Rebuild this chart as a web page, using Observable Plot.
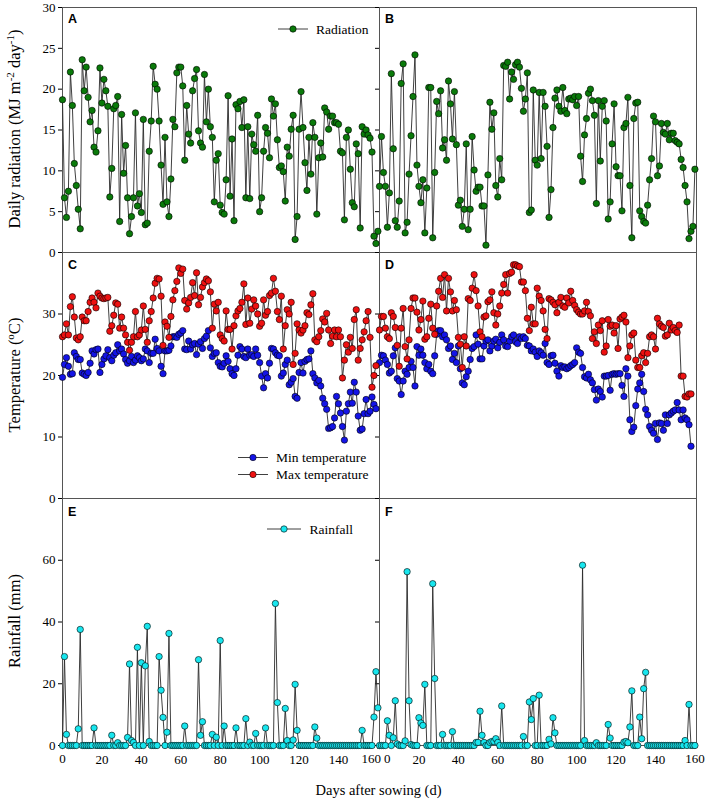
<!DOCTYPE html>
<html><head><meta charset="utf-8">
<script src="https://cdn.jsdelivr.net/npm/d3@7"></script>
<script src="https://cdn.jsdelivr.net/npm/@observablehq/plot@0.6"></script>
<style>
body{margin:0;background:#fff;}
#wrap{position:relative;width:708px;height:805px;overflow:hidden;}
</style></head><body><div id="wrap"></div>
<script>
// ---------------- data ----------------
const radiationA = [
18.7,6.7,4.3,7.5,22.1,18.0,10.9,8.2,5.3,2.9,
23.6,19.8,22.7,19.0,16.0,17.4,12.9,12.3,14.9,22.6,
18.3,21.2,19.8,17.9,6.8,10.3,17.6,18.0,19.1,3.8,
16.9,9.7,13.1,6.7,2.3,4.4,6.7,17.1,5.7,7.2,
4.9,16.3,3.4,3.6,12.4,16.1,22.8,20.6,20.0,16.1,
10.7,5.9,14.1,6.2,4.4,9.0,16.3,15.4,22.0,22.7,
22.7,20.4,11.3,18.0,14.5,13.4,19.8,21.3,22.4,14.9,
13.4,12.9,21.8,16.0,20.0,15.4,14.1,6.2,11.3,12.1,
5.8,
4.9,4.7,8.9,19.2,6.9,13.9,3.9,18.1,17.6,18.5,
15.3,18.7,6.7,15.4,6.6,14.5,13.2,12.4,16.8,5.0,
6.7,12.4,15.3,14.6,11.6,18.8,16.7,18.2,13.8,10.4,
10.6,9.9,6.3,12.9,11.8,15.1,16.8,1.6,4.4,15.1,
19.7,15.3,11.0,7.6,14.1,9.6,15.9,14.1,4.7,11.6,
13.4,11.7,17.7,17.2,15.1,16.7,16.7,15.9,15.9,15.7,
12.4,12.2,4.0,14.1,15.0,10.2,6.1,5.6,13.3,12.1,
3.0,15.4,14.5,15.0,14.4,14.0,12.3,2.0,1.1,2.6];

const radiationB = [
8.1,14.2,9.8,8.1,3.1,7.3,21.9,12.7,3.9,3.1,
6.3,20.7,23.1,2.4,3.7,9.6,14.3,19.1,24.2,10.7,
8.1,6.1,8.9,2.4,7.9,20.2,20.2,1.8,9.8,18.5,
17.0,19.8,12.8,13.8,11.3,21.0,18.2,13.9,19.7,13.2,
5.8,6.4,3.2,5.3,13.3,2.8,5.3,14.2,10.1,7.5,
8.0,8.0,5.7,5.7,0.9,9.5,18.4,15.1,17.1,8.2,
6.8,11.5,8.9,22.9,22.8,23.3,18.8,22.1,21.2,23.0,
23.3,22.7,20.1,17.3,18.8,22.0,4.9,5.2,19.9,11.3,
10.7,19.6,
11.5,19.6,17.9,13.0,4.3,7.7,15.3,18.9,19.9,17.9,
17.3,20.2,17.4,17.0,18.8,18.9,18.7,19.1,18.0,19.1,
11.8,8.7,14.4,16.4,19.5,20.0,18.6,16.8,6.0,18.6,
11.2,17.9,18.6,16.1,4.1,6.2,13.3,18.2,10.5,9.4,
9.4,5.1,15.3,15.8,19.0,8.2,1.8,16.4,18.3,18.4,
5.1,4.4,3.8,3.6,5.8,8.9,11.5,16.7,16.0,9.4,
10.6,15.8,14.7,14.5,15.8,13.8,14.6,14.6,13.7,13.5,
13.3,11.4,10.4,8.2,6.2,1.7,2.6,3.2,10.2];

const minTempC = [
19.7,21.8,22.9,21.5,20.2,20.3,23.7,23.1,22.6,22.6,
20.4,20.2,20.0,20.5,22.0,24.0,23.5,24.2,24.3,20.5,
21.8,22.7,23.2,24.2,22.9,22.4,23.3,23.7,25.0,24.0,
24.3,23.5,22.6,22.0,22.4,23.1,22.1,22.5,23.2,22.9,
22.4,22.7,24.3,24.0,22.1,23.6,23.6,25.9,24.4,24.0,
21.5,20.3,24.0,24.0,24.1,24.8,26.3,26.3,26.2,26.7,
26.9,27.3,24.3,24.2,25.6,24.3,25.0,25.2,23.4,25.1,
25.5,24.4,26.0,26.4,27.3,24.5,23.1,23.6,23.7,22.1,
21.5,21.4,22.0,23.2,22.3,21.1,20.3,20.0,21.1,
23.3,24.7,24.3,23.1,22.9,24.3,23.3,23.4,23.1,24.3,
23.3,22.1,19.9,18.0,20.3,19.6,22.0,24.4,24.3,23.7,
23.3,23.2,19.9,20.4,21.8,22.5,18.5,18.9,19.5,16.6,
16.3,20.5,22.1,20.4,22.3,22.6,22.7,24.0,20.3,19.6,
18.8,19.2,18.3,16.3,15.4,14.5,11.4,11.5,11.7,13.1,
16.6,15.4,13.9,11.7,9.5,14.2,15.4,17.3,15.5,18.9,
17.3,13.4,11.1,11.3,13.8,16.1,13.8,14.2,16.5,15.3,14.6];

const maxTempC = [
26.3,26.6,28.4,26.6,31.2,32.8,29.5,26.1,25.8,26.3,
29.5,28.9,28.9,30.4,31.9,32.6,31.9,31.0,33.4,32.9,
32.6,32.5,32.6,32.7,27.2,28.1,29.8,31.8,31.6,27.7,
29.5,27.7,26.6,25.4,24.1,25.4,26.3,30.4,26.3,26.6,
27.4,31.3,27.5,25.4,28.9,30.4,32.6,35.0,35.8,35.7,
32.9,24.9,28.7,28.0,26.2,29.6,32.3,33.8,35.3,37.5,
36.6,37.3,32.2,30.8,31.8,32.7,35.1,33.0,36.7,31.5,
32.7,34.4,35.1,35.7,35.4,33.6,27.7,31.6,30.5,31.9,
26.6,26.0,25.6,30.5,27.5,27.5,24.3,28.1,29.7,30.5,
30.9,31.9,34.9,28.3,32.6,28.5,30.8,32.3,31.3,30.0,
28.0,28.5,32.3,29.8,30.4,33.0,33.4,35.8,33.7,30.4,
29.1,32.9,24.3,28.1,30.7,30.0,31.9,21.8,23.6,28.4,
27.4,26.9,27.4,28.1,30.2,29.9,31.5,33.3,25.8,25.5,
26.3,27.3,29.2,28.7,30.1,27.4,25.2,26.4,27.4,26.3,
27.4,26.3,19.6,22.5,25.0,23.8,26.2,24.4,29.1,30.7,
22.5,24.4,25.8,27.1,28.9,30.4,26.2,18.1,20.0,21.6];

const minTempD = [
22.1,23.3,23.2,22.5,21.8,20.4,20.7,23.2,24.5,19.5,
19.1,16.9,19.1,20.7,20.2,21.3,22.3,21.3,18.3,24.7,
23.3,24.3,23.3,22.1,21.1,21.8,20.7,20.3,23.2,26.7,
27.3,27.3,26.3,26.6,25.8,24.4,24.8,22.6,23.6,22.1,
24.8,21.1,18.8,18.5,19.8,20.7,22.6,24.4,24.7,26.6,
25.1,22.7,22.7,24.8,25.6,25.8,24.0,24.8,25.6,25.9,
24.5,25.4,26.6,25.8,24.8,24.7,25.6,26.3,26.6,25.5,
25.2,26.3,26.0,26.3,26.0,24.9,24.8,24.0,24.3,23.8,
23.1,
24.0,23.7,23.3,25.2,22.1,21.8,23.2,23.3,22.0,20.7,
19.9,21.6,21.3,21.4,21.1,21.3,21.6,21.8,22.1,24.5,
23.8,23.6,21.3,19.8,19.6,20.2,19.3,18.8,17.7,16.0,
17.8,17.4,16.5,19.9,19.9,20.0,17.6,20.2,20.3,20.2,
20.3,20.3,18.4,16.6,21.1,19.9,12.8,10.9,11.6,15.1,
17.8,18.8,20.2,17.4,14.5,13.6,11.7,11.1,10.6,12.2,
9.6,12.3,12.2,11.1,13.6,12.2,13.6,13.9,14.2,14.4,
15.6,14.4,12.8,14.4,13.1,12.8,12.0,8.5];

const maxTempD = [
27.4,29.6,29.6,27.7,26.3,26.0,30.2,29.6,27.8,24.9,
21.5,27.7,30.9,24.7,22.7,25.8,30.9,32.6,32.6,30.3,
27.4,29.1,32.1,25.9,26.3,29.3,31.6,27.7,26.7,31.3,
33.7,35.8,32.7,36.4,30.5,35.8,33.6,30.5,32.2,30.7,
26.2,25.1,21.3,26.3,24.8,32.5,32.2,34.2,36.4,33.8,
31.3,27.1,26.3,29.5,29.7,32.0,32.3,33.6,30.2,28.2,
30.0,31.3,33.4,34.8,36.4,33.4,36.6,36.8,38.0,38.0,
37.8,37.7,35.2,35.2,33.8,29.3,27.3,31.1,28.4,28.4,
34.2,
32.9,32.2,30.5,27.5,26.0,32.5,32.3,31.9,31.5,30.2,
31.9,32.7,31.3,31.1,32.6,31.8,33.7,32.2,31.4,30.7,
30.3,30.0,30.0,30.5,31.9,30.4,29.7,26.0,27.1,25.2,
28.2,27.3,28.9,23.8,24.8,29.1,28.0,28.2,26.9,28.1,
24.4,29.2,29.5,29.8,28.7,22.9,24.8,26.6,26.9,22.5,
21.3,21.3,23.2,23.7,22.1,23.6,26.3,26.6,26.3,24.3,
29.3,28.4,28.0,27.8,26.4,26.6,28.5,27.4,27.8,27.3,
27.0,28.2,19.9,19.9,16.6,16.5,17.0,17.0];

const rainfallE = [
0,28.8,3.6,0,0,0,0,0,5.4,37.6,
0,0,0,0,0,0,5.7,0,0,0,
0,0,0,0,0,3.3,0,0,0.9,0,
0,0,0,2.6,26.4,1.6,1.0,0,31.8,0,
26.8,0,25.8,38.6,1.3,0,0,0,0,28.8,
17.9,9.1,0,4.3,36.3,0,0,0,0,0,
0,0,6.3,0,0,0,0,0,0,27.8,
3.3,7.7,0,0,0,0,3.6,0,2.7,0,
34.0,0,6.3,0,0,0,0,0,5.7,0,
0,0,0,8.7,0,1.1,0,0,3.9,0,
0,0,0,5.7,0,0,0,0,46.0,13.9,
0,0,0,12.0,1.6,0,0,1.8,19.8,4.9,
0,0,0,0,0,0,0,0,6.0,2.4,
0,0,0,0,0,0,0,0,0,0,
0,0,0,0,0,0,0,0,0,0,
0,0,4.9,0,0,0,0,0,9.2,23.9,
12.2];

const rainfallF = [
0,0,0,0,8.0,3.3,0,2.5,14.5,0.5,
0,0,0,1.5,56.3,14.5,0.3,0,0,0,
9.0,7.3,6.5,19.8,0,0,0,52.4,21.7,0,
0,0,3.6,0,0,0,0,4.5,0,0,
0,0,0,0,0,0,0,0,0,1.0,
1.0,11.1,3.3,1.0,0,0,1.0,1.3,1.3,2.2,
1.0,0,12.8,0,0,0,0,0,0,0,
0,0,0,2.9,0,0,14.1,8.4,15.2,0,
0,16.3,0,0,0,0,2.0,0.5,9.0,4.1,
0,0,0,0,0,0,0,0,0,0,
0,0,0,58.4,1.6,0,0,0,0,0,
0.9,0,0,0,0,0,6.8,2.4,0,0,
0,0,0,0,1.1,1.3,0.9,6.0,17.7,0,
0,0,9.2,2.2,18.4,23.7,0,0,0,0,
0,0,0,0,0,0,0,0,0,0,
0,0,0,0,0,1.6,0,13.3,0,0,
0];

const xTicks = [0,20,40,60,80,100,120,140,160];
const xInnerLabels = [20,40,60,80,100,120,140];
const radiationTicks = [0,5,10,15,20,25,30];
const temperatureTicks = [0,10,20,30,40];
const temperatureLabels = [0,10,20,30];
const rainfallTicks = [0,20,40,60,80];
const rainfallLabels = [0,20,40,60];

// ---------------- styles ----------------
const green = "#0a7a0a", blue = "#1414e6", red = "#ee1111", cyan = "#18e6ee";
const lineColor = "#2a2a2a";
const serif = "'Liberation Serif','Times New Roman',serif";
const sans = "'Liberation Sans',Arial,sans-serif";

function series(values, panel) { return values.map((v, i) => ({day: i, value: v, panel})); }

const wrap = document.getElementById("wrap");
function place(el, top) { el.style.position = "absolute"; el.style.left = "0px"; el.style.top = top + "px"; wrap.appendChild(el); }

const common = {
  width: 708, marginLeft: 61.5, marginRight: 12.3,
  style: {background: "transparent", fontFamily: serif, fontSize: "13px", color: "#000", overflow: "visible"},
  x: {domain: [0, 160.8], axis: null}
};

function yAxes(ticks, labels) {
  return [
    Plot.axisY(ticks, {facetAnchor: "right", tickSize: 4, tickFormat: () => "", label: null}),
    Plot.axisY(ticks, {facetAnchor: "left", tickSize: 4, tickPadding: 3, label: null,
      tickFormat: (d) => labels.includes(d) ? String(d) : ""})
  ];
}
function letters(p1, p2, dy) {
  return Plot.text([{panel: p1}, {panel: p2}], {fx: "panel", text: "panel", frameAnchor: "top-left",
    lineAnchor: "top", dx: 5.5, dy, fontFamily: sans, fontWeight: "bold", fontSize: 12.5});
}
function pointsLine(data, fill) {
  return [
    Plot.line(data, {x: "day", y: "value", fx: "panel", stroke: lineColor, strokeWidth: 0.9}),
    Plot.dot(data, {x: "day", y: "value", fx: "panel", r: 3.2, fill, stroke: "#000", strokeWidth: 0.6})
  ];
}
function xLabel(items, opts) {
  return Plot.text(items, {fx: "panel", x: "t", text: (d) => String(d.t), frameAnchor: "bottom",
    lineAnchor: "top", dy: 8, fontSize: 13, ...opts});
}

// Row 1: radiation
const radData = series(radiationA, "A").concat(series(radiationB, "B"));
const row1 = Plot.plot({
  ...common, height: 253, marginTop: 7, marginBottom: 1,
  fx: {domain: ["A","B"], padding: 0, axis: null, label: null},
  y: {domain: [0, 30], axis: null},
  marks: [
    Plot.frame({stroke: "#555"}),
    ...yAxes(radiationTicks, radiationTicks),
    ...pointsLine(radData, green),
    letters("A", "B", 7)
  ]
});
place(row1, 0);

// Row 2: temperature
const minData = series(minTempC, "C").concat(series(minTempD, "D"));
const maxData = series(maxTempC, "C").concat(series(maxTempD, "D"));
const row2 = Plot.plot({
  ...common, height: 248, marginTop: 1, marginBottom: 1,
  fx: {domain: ["C","D"], padding: 0, axis: null, label: null},
  y: {domain: [0, 40], axis: null},
  marks: [
    Plot.frame({stroke: "#555"}),
    ...yAxes(temperatureTicks, temperatureLabels),
    ...pointsLine(minData, blue),
    ...pointsLine(maxData, red),
    letters("C", "D", 8)
  ]
});
place(row2, 251);

// Row 3: rainfall
const rainData = series(rainfallE, "E").concat(series(rainfallF, "F"));
const row3 = Plot.plot({
  ...common, height: 308, marginTop: 1, marginBottom: 60,
  fx: {domain: ["E","F"], padding: 0, axis: null, label: null},
  y: {domain: [0, 80], axis: null},
  marks: [
    Plot.frame({stroke: "#555"}),
    ...yAxes(rainfallTicks, rainfallLabels),
    Plot.axisX(xTicks, {tickSize: 4, tickPadding: 5, label: null,
      tickFormat: (d) => xInnerLabels.includes(d) ? String(d) : ""}),
    xLabel([{panel: "E", t: 0}, {panel: "F", t: 160}], {}),
    xLabel([{panel: "E", t: 160}], {textAnchor: "end", dx: 3}),
    xLabel([{panel: "F", t: 0}], {textAnchor: "start", dx: 4.5}),
    ...pointsLine(rainData, cyan),
    letters("E", "F", 8.5)
  ]
});
place(row3, 497);

// Overlay: legends and axis titles
const ns = "http://www.w3.org/2000/svg";
const ov = document.createElementNS(ns, "svg");
ov.setAttribute("width", 708); ov.setAttribute("height", 805);
ov.style.position = "absolute"; ov.style.left = "0"; ov.style.top = "0"; ov.style.pointerEvents = "none";
function legendItem(x1, x2, y, fill, label, tx) {
  const cx = (x1 + x2) / 2;
  return `<line x1="${x1}" y1="${y}" x2="${x2}" y2="${y}" stroke="${lineColor}" stroke-width="0.9"/>
  <circle cx="${cx}" cy="${y}" r="3.2" fill="${fill}" stroke="#000" stroke-width="0.6"/>
  <text x="${tx}" y="${y + 4.6}" font-family="${serif}" font-size="13.5">${label}</text>`;
}
ov.innerHTML =
  legendItem(278, 308, 29, green, "Radiation", 316) +
  legendItem(238, 268, 457.5, blue, "Min temperature", 276) +
  legendItem(238, 268, 474.5, red, "Max temperature", 276) +
  legendItem(267, 301, 529, cyan, "Rainfall", 309.5) +
  `<g font-family="${serif}" font-size="16.5" fill="#000">
   <text transform="translate(20,129) rotate(-90)" text-anchor="middle">Daily radiation (MJ m<tspan dy="-6" font-size="11">-2</tspan><tspan dy="6"> day</tspan><tspan dy="-6" font-size="11">-1</tspan><tspan dy="6">)</tspan></text>
   <text transform="translate(20,375) rotate(-90)" text-anchor="middle">Temperature (<tspan dy="-6" font-size="11">o</tspan><tspan dy="6">C)</tspan></text>
   <text transform="translate(20,621) rotate(-90)" text-anchor="middle">Rainfall (mm)</text>
   <text x="378.5" y="795" text-anchor="middle" font-size="14.5">Days after sowing (d)</text>
  </g>`;
wrap.appendChild(ov);
</script>
</body></html>
